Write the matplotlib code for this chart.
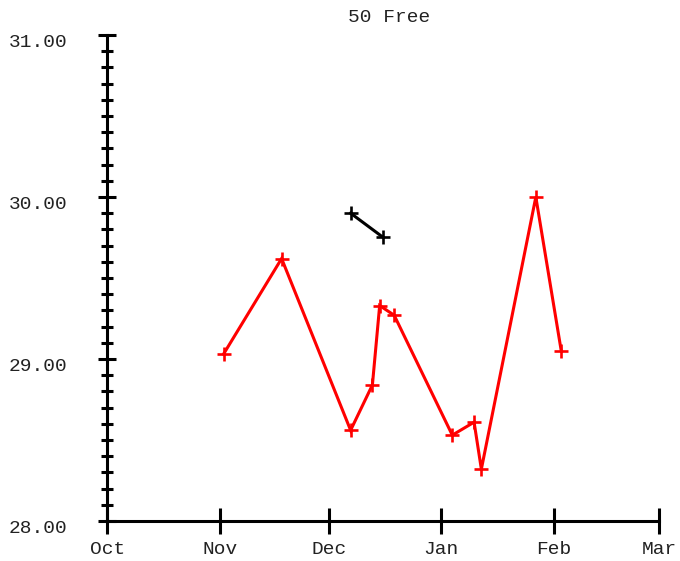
import pandas as pd
import matplotlib
matplotlib.use("Agg")
import matplotlib.pyplot as plt
import matplotlib.dates as mdates
import matplotlib.transforms as mtrans
from matplotlib.ticker import MultipleLocator, FormatStrFormatter

# swim times (seconds) for the 50 Free
red_dates = ["2023-11-02", "2023-11-18", "2023-12-07", "2023-12-13", "2023-12-15",
             "2023-12-19", "2024-01-04", "2024-01-10", "2024-01-12", "2024-01-27",
             "2024-02-03"]
red_times = [29.03, 29.62, 28.56, 28.84, 29.33, 29.27, 28.53, 28.61, 28.32, 30.00, 29.05]

black_dates = ["2023-12-07", "2023-12-16"]
black_times = [29.90, 29.75]

font = "Liberation Mono"
plt.rcParams['font.family'] = [font, 'DejaVu Sans Mono']

fig = plt.figure(figsize=(6.8, 5.61), dpi=100)
ax = fig.add_axes([107.3 / 680, 1 - 521 / 561, 552 / 680, 486 / 561])

ax.plot(pd.to_datetime(red_dates), red_times, color="#ff0000", lw=2.2,
        marker="+", markersize=10, mew=1.9, solid_joinstyle="miter")
ax.plot(pd.to_datetime(black_dates), black_times, color="black", lw=2.2,
        marker="+", markersize=10, mew=1.9)

ax.set_xlim(pd.Timestamp("2023-10-01"), pd.Timestamp("2024-03-01"))
ax.set_ylim(28, 31)

for s in ["top", "right"]:
    ax.spines[s].set_visible(False)
for s in ["left", "bottom"]:
    ax.spines[s].set_linewidth(2.2)

ax.xaxis.set_major_locator(mdates.MonthLocator())
ax.xaxis.set_major_formatter(mdates.DateFormatter("%b"))
ax.yaxis.set_major_locator(MultipleLocator(1.0))
ax.yaxis.set_minor_locator(MultipleLocator(0.1))
ax.yaxis.set_major_formatter(FormatStrFormatter("%.2f"))

ax.tick_params(axis="x", direction="inout", length=19, width=2.2, pad=5,
               labelsize=14)
ax.tick_params(axis="y", which="major", direction="inout", length=13, width=2.2,
               pad=22, labelsize=14)
ax.tick_params(axis="y", which="minor", direction="inout", length=9, width=2.2)

off = mtrans.ScaledTranslation(0, -6 / 100, fig.dpi_scale_trans)
for lab in ax.get_yticklabels():
    lab.set_transform(lab.get_transform() + off)

for lab in ax.get_xticklabels() + ax.get_yticklabels():
    lab.set_color("#222222")

fig.text(389 / 680, 1 - 17.5 / 561, "50 Free", ha="center", va="center",
         fontsize=14, color="#222222")

fig.savefig("out.png", dpi=100)
